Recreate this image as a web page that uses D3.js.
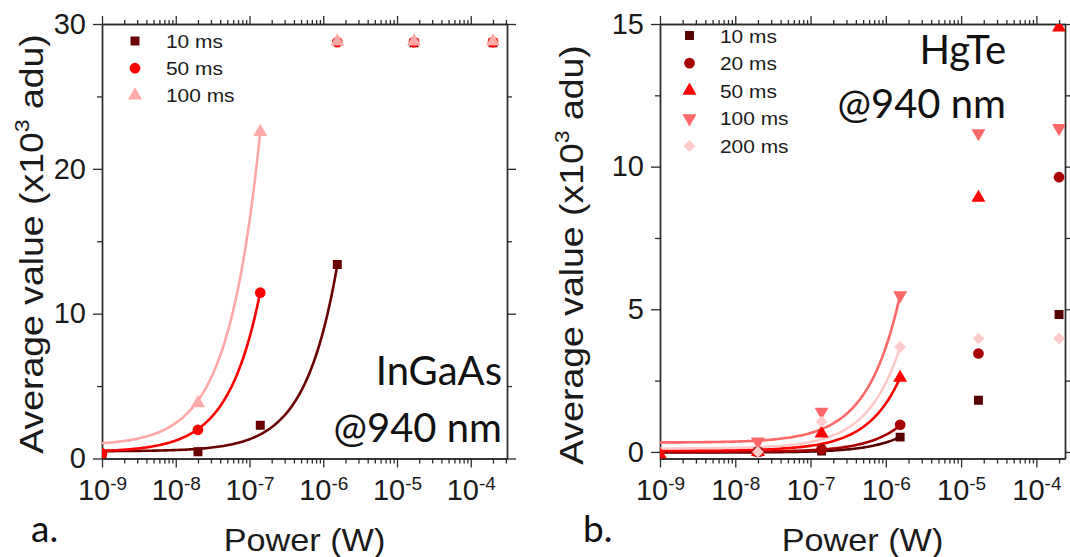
<!DOCTYPE html>
<html>
<head>
<meta charset="utf-8">
<script src="https://cdn.jsdelivr.net/npm/d3@7"></script>
<style>
  html, body { margin: 0; padding: 0; background: #fff; }
  svg { display: block; }
</style>
</head>
<body>
<svg id="chart" width="1070" height="557"></svg>
<script>
// Incident optical power (W) for every measurement
const power = [1e-9, 2e-8, 1.4e-7, 1.55e-6, 1.7e-5, 2e-4];
const decadeTicks = [1e-9, 1e-8, 1e-7, 1e-6, 1e-5, 1e-4];
const decadeExponents = ["-9", "-8", "-7", "-6", "-5", "-4"];

// Panel a: InGaAs camera, average value (x10^3 adu)
const ingaasLabels = ["10 ms", "50 ms", "100 ms"];
const ingaas10 = [0.3, 0.46, 2.3, 13.4, 28.7, 28.7];
const ingaas50 = [0.35, 1.98, 11.45, 28.75, 28.75, 28.75];
const ingaas100 = [null, 3.82, 22.55, 28.8, 28.8, 28.8];
// linear fits value = a + b * P, drawn up to fitEnd
const ingaasFitA = [0.5, 0.45, 0.9];
const ingaasFitB = [8.3e6, 7.9e7, 1.55e8];
const ingaasFitEnd = [1.55e-6, 1.4e-7, 1.4e-7];
const ingaasYTicks = [0, 10, 20, 30];
const ingaasYMinor = [5, 15, 25];

// Panel b: HgTe camera
const hgteLabels = ["10 ms", "20 ms", "50 ms", "100 ms", "200 ms"];
const hgte10 = [null, 0.0, 0.03, 0.52, 1.81, 4.82];
const hgte20 = [null, 0.0, 0.1, 0.95, 3.45, 9.63];
const hgte50 = [-0.1, 0.0, 0.65, 2.6, 8.91, 14.88];
const hgte100 = [null, 0.36, 1.41, 5.49, 11.17, 11.35];
const hgte200 = [null, 0.0, 1.06, 3.68, 3.98, 3.98];
const hgteFitA = [-0.02, 0.0, 0.05, 0.33, 0.12];
const hgteFitB = [3.5e5, 6.0e5, 1.65e6, 3.34e6, 2.3e6];
const hgteFitEnd = [1.55e-6, 1.55e-6, 1.55e-6, 1.55e-6, 1.55e-6];
const hgteYTicks = [0, 5, 10, 15];
const hgteYMinor = [2.5, 7.5, 12.5];

const svg = d3.select("#chart");
const AXIS = "#2b2b2b";
const SANS = "'Liberation Sans', Arial, sans-serif";
const NOTE = "Lato, 'Open Sans', sans-serif";

function markerPath(kind) {
  switch (kind) {
    case "square": return d3.symbol(d3.symbolSquare, 80)();
    case "circle": return d3.symbol(d3.symbolCircle, 90)();
    case "up": return d3.symbol(d3.symbolTriangle, 85)();
    case "down": return d3.symbol(d3.symbolTriangle, 85)();
    case "diamond": return d3.symbol(d3.symbolSquare, 70)();
  }
}
function markerRotate(kind) {
  return kind === "down" ? " rotate(180)" : kind === "diamond" ? " rotate(45)" : "";
}

function drawPanel(cfg) {
  const g = svg.append("g");
  const x = d3.scaleLog().domain(cfg.xDomain).range([cfg.x0, cfg.x1]);
  const y = d3.scaleLinear().domain(cfg.yDomain).range([cfg.y1, cfg.y0]);

  const minor = [];
  for (let e = -9; e <= -4; e++) {
    for (let m = 2; m <= 9; m++) {
      const v = m * Math.pow(10, e);
      if (v <= cfg.xDomain[1]) minor.push(v);
    }
  }

  const styleAxis = sel => {
    sel.selectAll("path.domain").attr("stroke", AXIS).attr("stroke-width", 1.4);
    sel.selectAll(".tick line").attr("stroke", AXIS).attr("stroke-width", 1.3);
  };

  // minor ticks on all four sides
  g.append("g").attr("transform", `translate(0,${cfg.y1})`)
    .call(d3.axisBottom(x).tickValues(minor).tickSize(5).tickSizeOuter(0).tickFormat(""))
    .call(styleAxis);
  g.append("g").attr("transform", `translate(0,${cfg.y0})`)
    .call(d3.axisTop(x).tickValues(minor).tickSize(4).tickSizeOuter(0).tickFormat(""))
    .call(styleAxis);
  g.append("g").attr("transform", `translate(${cfg.x0},0)`)
    .call(d3.axisLeft(y).tickValues(cfg.yMinor).tickSize(5).tickSizeOuter(0).tickFormat(""))
    .call(styleAxis);
  g.append("g").attr("transform", `translate(${cfg.x1},0)`)
    .call(d3.axisRight(y).tickValues(cfg.yMinor).tickSize(5).tickSizeOuter(0).tickFormat(""))
    .call(styleAxis);

  // major ticks
  const bottom = g.append("g").attr("transform", `translate(0,${cfg.y1})`)
    .call(d3.axisBottom(x).tickValues(decadeTicks).tickSize(9).tickSizeOuter(0).tickFormat(""))
    .call(styleAxis);
  g.append("g").attr("transform", `translate(0,${cfg.y0})`)
    .call(d3.axisTop(x).tickValues(decadeTicks).tickSize(8).tickSizeOuter(0).tickFormat(""))
    .call(styleAxis);
  const left = g.append("g").attr("transform", `translate(${cfg.x0},0)`)
    .call(d3.axisLeft(y).tickValues(cfg.yTicks).tickSize(9).tickPadding(7).tickSizeOuter(0))
    .call(styleAxis);
  g.append("g").attr("transform", `translate(${cfg.x1},0)`)
    .call(d3.axisRight(y).tickValues(cfg.yTicks).tickSize(9).tickSizeOuter(0).tickFormat(""))
    .call(styleAxis);

  left.selectAll(".tick text")
    .attr("font-family", SANS).attr("font-size", 29).attr("fill", "#1a1a1a");

  // decade labels with superscript exponents
  bottom.selectAll(".tick").each(function (d, i) {
    const t = d3.select(this).select("text");
    t.attr("y", 41).attr("dy", null).attr("font-family", SANS).attr("font-size", 29)
      .attr("fill", "#1a1a1a").attr("text-anchor", "middle").text(null);
    t.append("tspan").text("10");
    t.append("tspan").attr("font-size", 19).attr("dy", -10).text(decadeExponents[i]);
  });

  // data
  const clipId = "clip-" + cfg.id;
  svg.append("clipPath").attr("id", clipId).append("rect")
    .attr("x", cfg.x0).attr("y", cfg.y0)
    .attr("width", cfg.x1 - cfg.x0).attr("height", cfg.y1 - cfg.y0);
  const plot = g.append("g").attr("clip-path", `url(#${clipId})`);

  const line = d3.line().x(d => x(d[0])).y(d => y(d[1]));
  cfg.series.forEach((s, k) => {
    const lo = Math.log10(cfg.xDomain[0]), hi = Math.log10(cfg.fitEnd[k]);
    const pts = d3.range(0, 121).map(i => {
      const p = Math.pow(10, lo + (hi - lo) * i / 120);
      return [p, cfg.fitA[k] + cfg.fitB[k] * p];
    });
    plot.append("path").datum(pts).attr("d", line)
      .attr("fill", "none").attr("stroke", cfg.colors[k]).attr("stroke-width", 2.6);
  });
  cfg.series.forEach((s, k) => {
    plot.append("g").selectAll("path")
      .data(power.map((p, i) => [p, s[i]]).filter(d => d[1] !== null))
      .join("path")
      .attr("d", markerPath(cfg.markers[k]))
      .attr("transform", d => `translate(${x(d[0])},${y(d[1])})` + markerRotate(cfg.markers[k]))
      .attr("fill", cfg.colors[k]);
  });

  // legend
  const lg = g.append("g");
  cfg.labels.forEach((lab, k) => {
    const yy = cfg.legend.y + k * cfg.legend.dy;
    lg.append("path").attr("d", markerPath(cfg.markers[k]))
      .attr("transform", `translate(${cfg.legend.x},${yy})` + markerRotate(cfg.markers[k]))
      .attr("fill", cfg.colors[k]);
    lg.append("text")
      .attr("transform", `translate(${cfg.legend.tx},${yy + 7}) scale(1.1,1)`)
      .attr("font-family", SANS).attr("font-size", 19).attr("fill", "#1a1a1a")
      .text(lab);
  });

  // axis titles
  g.append("text")
    .attr("transform", `translate(${(cfg.x0 + cfg.x1) / 2},551) scale(1.07,1)`)
    .attr("text-anchor", "middle").attr("font-family", SANS).attr("font-size", 32)
    .attr("fill", "#1a1a1a").text("Power (W)");
  const yt = g.append("text")
    .attr("transform", `translate(${cfg.titleX},${cfg.titleY}) rotate(-90) scale(1.1,1)`)
    .attr("text-anchor", "middle").attr("font-family", SANS).attr("font-size", 34)
    .attr("fill", "#1a1a1a");
  yt.append("tspan").text("Average value (x10");
  yt.append("tspan").attr("font-size", 21).attr("dy", -14).text("3");
  yt.append("tspan").attr("dy", 14).text(" adu)");

  // material annotation and panel letter
  cfg.note.forEach((txt, i) => {
    g.append("text").attr("x", cfg.noteX).attr("y", cfg.noteY[i])
      .attr("text-anchor", "end").attr("font-family", NOTE).attr("font-size", 40)
      .attr("fill", "#111").text(txt);
  });
  g.append("text").attr("x", cfg.letterX).attr("y", 542)
    .attr("font-family", NOTE).attr("font-size", 37).attr("fill", "#111").text(cfg.letter);
}

drawPanel({
  id: "a", x0: 102, x1: 507, y0: 24, y1: 458.5,
  xDomain: [1e-9, 3.1e-4], yDomain: [0, 30],
  yTicks: ingaasYTicks, yMinor: ingaasYMinor,
  series: [ingaas10, ingaas50, ingaas100],
  labels: ingaasLabels,
  colors: ["#6a0000", "#ff0000", "#ffa8a8"],
  markers: ["square", "circle", "up"],
  fitA: ingaasFitA, fitB: ingaasFitB, fitEnd: ingaasFitEnd,
  legend: { x: 135, y: 41, dy: 27.2, tx: 166 },
  titleX: 43, titleY: 244,
  note: ["InGaAs", "@940 nm"], noteX: 502, noteY: [385, 442],
  letter: "a.", letterX: 31
});

drawPanel({
  id: "b", x0: 660, x1: 1065, y0: 24, y1: 458.5,
  xDomain: [1e-9, 2.4e-4], yDomain: [-0.23, 15],
  yTicks: hgteYTicks, yMinor: hgteYMinor,
  series: [hgte10, hgte20, hgte50, hgte100, hgte200],
  labels: hgteLabels,
  colors: ["#560000", "#a80000", "#ff0000", "#ff6868", "#ffcaca"],
  markers: ["square", "circle", "up", "down", "diamond"],
  fitA: hgteFitA, fitB: hgteFitB, fitEnd: hgteFitEnd,
  legend: { x: 689.5, y: 35.5, dy: 27.6, tx: 720 },
  titleX: 583, titleY: 255,
  note: ["HgTe", "@940 nm"], noteX: 1006, noteY: [64, 118],
  letter: "b.", letterX: 583
});
</script>
</body>
</html>
